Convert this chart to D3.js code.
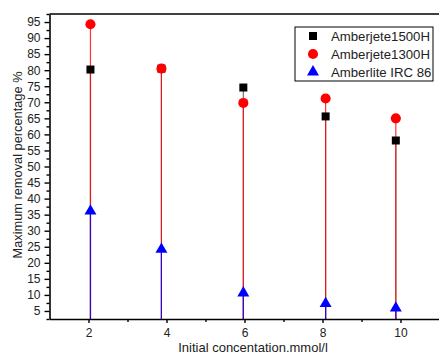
<!DOCTYPE html>
<html>
<head>
<meta charset="utf-8">
<script src="https://cdn.jsdelivr.net/npm/d3@7"></script>
<style>
  body { margin: 0; background: #fff; }
  svg { display: block; font-family: "Liberation Sans", Arial, sans-serif; }
</style>
</head>
<body>
<div id="chart"></div>
<script>
// concentration positions (as plotted)
const concentrations = [2.05, 3.87, 5.97, 8.08, 9.88];
const amberjete1500H = [80.2, 80.5, 74.6, 65.6, 58.1];
const amberjete1300H = [94.3, 80.5, 69.8, 71.2, 65.0];
const amberliteIRC86 = [36.1, 24.2, 10.6, 7.3, 5.9];
const xTicks = [2, 4, 6, 8, 10];
const xMinor = [3, 5, 7, 9];
const yTicks = d3.range(5, 100, 5);
const yMinor = d3.range(2.5, 97.6, 5);

const series = [
  { name: "Amberjete1500H", values: amberjete1500H, color: "#000", stem: "rgba(0,0,0,0.55)", shape: d3.symbolSquare, size: 64 },
  { name: "Amberjete1300H", values: amberjete1300H, color: "#ff0000", stem: "rgba(255,0,0,0.8)", shape: d3.symbolCircle, size: 80 },
  { name: "Amberlite IRC 86", values: amberliteIRC86, color: "#0000ff", stem: "rgba(0,0,255,0.8)", shape: d3.symbolTriangle, size: 62 }
];

const W = 439, H = 354;
const plotLeft = 49.5, plotTop = 14, plotBottom = 319;

const svg = d3.select("#chart").append("svg")
  .attr("width", W).attr("height", H);

const x = d3.scaleLinear().domain([1, 11]).range([plotLeft, 439.5]);
const y = d3.scaleLinear().domain([2.5, 97.5]).range([plotBottom, plotTop]);

// drop lines
series.forEach(s => {
  svg.append("g").selectAll("line")
    .data(s.values)
    .enter().append("line")
    .attr("x1", (d, i) => x(concentrations[i]))
    .attr("x2", (d, i) => x(concentrations[i]))
    .attr("y1", y(2.5))
    .attr("y2", d => y(d))
    .attr("stroke", s.stem)
    .attr("stroke-width", 1.2);
});

// markers
series.forEach(s => {
  svg.append("g").selectAll("path")
    .data(s.values)
    .enter().append("path")
    .attr("d", d3.symbol().type(s.shape).size(s.size))
    .attr("transform", (d, i) => "translate(" + x(concentrations[i]) + "," + y(d) + ")")
    .attr("fill", s.color);
});

// axes
svg.append("g")
  .attr("transform", "translate(0," + plotBottom + ")")
  .call(d3.axisBottom(x).tickValues(xTicks).tickSize(4).tickSizeOuter(0).tickPadding(5));
svg.append("g")
  .attr("transform", "translate(0," + plotBottom + ")")
  .call(d3.axisBottom(x).tickValues(xMinor).tickSize(3).tickFormat("").tickSizeOuter(0))
  .select(".domain").remove();

svg.append("g")
  .attr("transform", "translate(" + plotLeft + ",0)")
  .call(d3.axisLeft(y).tickValues(yTicks).tickSize(5).tickSizeOuter(0).tickPadding(4));
svg.append("g")
  .attr("transform", "translate(" + plotLeft + ",0)")
  .call(d3.axisLeft(y).tickValues(yMinor).tickSize(3).tickFormat(""))
  .select(".domain").remove();

svg.selectAll(".domain").attr("stroke", "#000").attr("stroke-width", 1.6);
svg.selectAll(".tick line").attr("stroke", "#000").attr("stroke-width", 1.4);
svg.selectAll(".tick text").attr("font-size", 12).attr("fill", "#222")
  .style("font-family", "'Liberation Sans', Arial, sans-serif");

// top frame line
svg.append("line")
  .attr("x1", plotLeft).attr("x2", W)
  .attr("y1", plotTop).attr("y2", plotTop)
  .attr("stroke", "#000").attr("stroke-width", 1.6);

// axis titles
svg.append("text")
  .attr("x", 253).attr("y", 352)
  .attr("text-anchor", "middle")
  .attr("font-size", 13).attr("fill", "#222")
  .text("Initial concentation.mmol/l");

svg.append("text")
  .attr("transform", "translate(22,165) rotate(-90)")
  .attr("text-anchor", "middle")
  .attr("font-size", 12.8).attr("fill", "#222")
  .text("Maximum removal percentage  %");

// legend
const lg = svg.append("g").attr("transform", "translate(295,27)");
lg.append("rect")
  .attr("width", 138).attr("height", 54)
  .attr("fill", "#fff").attr("stroke", "#000").attr("stroke-width", 1);
series.forEach((s, i) => {
  const row = lg.append("g").attr("transform", "translate(0," + (9 + i * 18) + ")");
  row.append("path")
    .attr("d", d3.symbol().type(s.shape).size(s.size))
    .attr("transform", "translate(18,0)")
    .attr("fill", s.color);
  row.append("text")
    .attr("x", 36).attr("dy", "0.35em")
    .attr("font-size", 13.2).attr("fill", "#222")
    .text(s.name);
});
</script>
</body>
</html>
